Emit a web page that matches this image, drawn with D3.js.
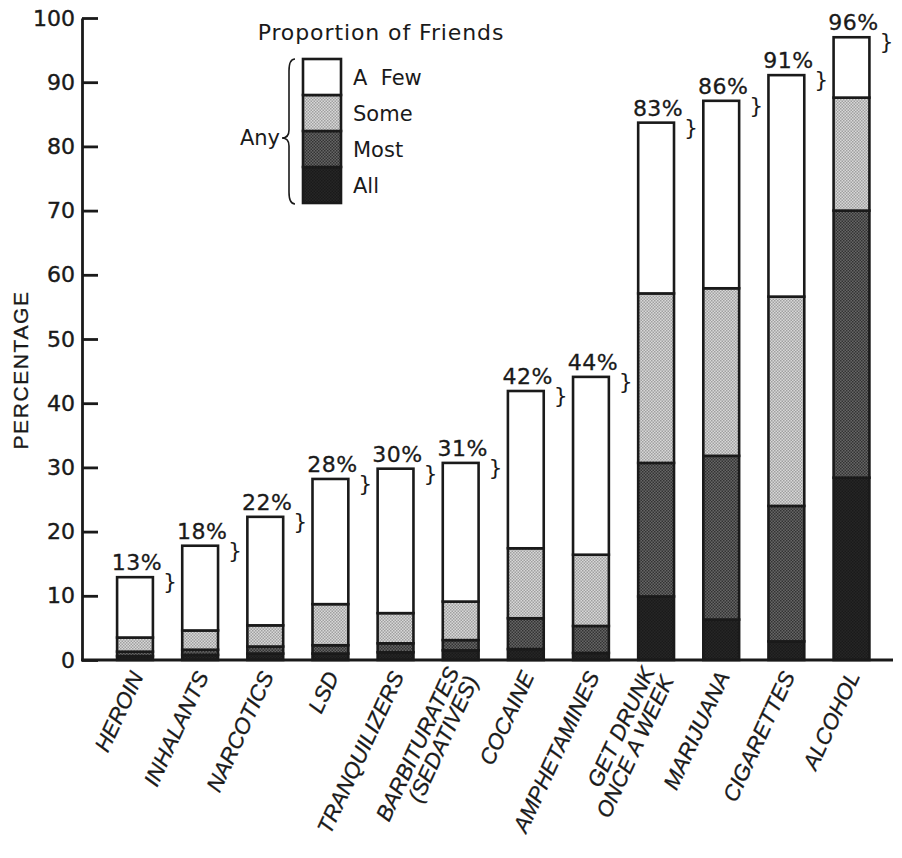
<!DOCTYPE html>
<html lang="en">
<head>
  <meta charset="UTF-8">
  <script src="https://d3js.org/d3.v7.min.js"></script>
  <title>Proportion of Friends</title>
  <style>
    body { margin: 0; background: #fff; }
    text { fill: #1a1a1a; }
  </style>
</head>
<body>
  <svg id="chart" width="902" height="858"></svg>

  <script>
    // categories, bottom to top segments (values in percent)
    var drugs = ["HEROIN", "INHALANTS", "NARCOTICS", "LSD", "TRANQUILIZERS", "BARBITURATES|(SEDATIVES)",
                 "COCAINE", "AMPHETAMINES", "GET DRUNK|ONCE A WEEK", "MARIJUANA", "CIGARETTES", "ALCOHOL"];
    var allFriends  = [0.6, 0.8, 1.0, 1.0, 1.2, 1.5, 1.7, 1.1, 9.9, 6.3, 2.9, 28.4];
    var mostFriends = [0.7, 0.8, 1.1, 1.3, 1.4, 1.6, 4.8, 4.2, 20.8, 25.5, 21.1, 41.6];
    var someFriends = [2.2, 3.0, 3.3, 6.4, 4.7, 6.0, 10.9, 11.1, 26.4, 26.1, 32.6, 17.6];
    var fewFriends  = [9.4, 13.2, 16.9, 19.5, 22.5, 21.6, 24.5, 27.7, 26.6, 29.2, 34.5, 9.4];
    var anyLabels   = ["13%", "18%", "22%", "28%", "30%", "31%", "42%", "44%", "83%", "86%", "91%", "96%"];
    var yTicks = [0, 10, 20, 30, 40, 50, 60, 70, 80, 90, 100];
    var keys = ["All", "Most", "Some", "A Few"];

    var svg = d3.select("#chart");
    var numFont = "'DejaVu Sans', sans-serif";
    var capFont = "'Liberation Sans', Arial, sans-serif";
    var ink = "#1a1a1a";

    // dithered fills
    var defs = svg.append("defs");
    function dither(id, a, b) {
      var p = defs.append("pattern").attr("id", id).attr("width", 3).attr("height", 3)
        .attr("patternUnits", "userSpaceOnUse");
      p.append("rect").attr("width", 3).attr("height", 3).attr("fill", a);
      p.append("rect").attr("width", 1.5).attr("height", 1.5).attr("fill", b);
      p.append("rect").attr("x", 1.5).attr("y", 1.5).attr("width", 1.5).attr("height", 1.5).attr("fill", b);
    }
    dither("some", "#d8d8d8", "#a0a0a0");
    dither("most", "#666", "#333");
    dither("all", "#262626", "#1a1a1a");
    var fills = { "All": "url(#all)", "Most": "url(#most)", "Some": "url(#some)", "A Few": "#fff" };

    var rows = drugs.map(function(d, i) {
      return { drug: d, "All": allFriends[i], "Most": mostFriends[i], "Some": someFriends[i], "A Few": fewFriends[i], label: anyLabels[i] };
    });
    var series = d3.stack().keys(keys)(rows);
    function total(d) { return d["All"] + d["Most"] + d["Some"] + d["A Few"]; }

    var x = d3.scaleBand().domain(drugs).range([99.5, 887]).paddingInner(0.45).paddingOuter(0.27);
    var y = d3.scaleLinear().domain([0, 100]).range([660, 18]);

    // y axis
    var yAxis = svg.append("g")
      .attr("transform", "translate(82,0)")
      .call(d3.axisLeft(y).tickValues(yTicks).tickSizeInner(-16).tickSizeOuter(0).tickPadding(7));
    yAxis.selectAll("path, line").attr("stroke", ink).attr("stroke-width", 2.8);
    yAxis.selectAll("text").attr("font-family", numFont).attr("font-size", 22)
      .attr("fill", ink).attr("stroke", ink).attr("stroke-width", 0.4);

    svg.append("text")
      .attr("transform", "translate(28,370) rotate(-90)")
      .attr("text-anchor", "middle")
      .attr("font-family", capFont).attr("font-size", 21).attr("letter-spacing", 1.6)
      .attr("stroke", ink).attr("stroke-width", 0.3)
      .text("PERCENTAGE");

    // bars
    svg.append("g").selectAll("g")
      .data(series).enter().append("g")
      .selectAll("rect")
      .data(function(s) { return s.map(function(d) { d.key = s.key; return d; }); })
      .enter().append("rect")
        .attr("x", function(d) { return x(d.data.drug); })
        .attr("width", x.bandwidth())
        .attr("y", function(d) { return y(d[1]); })
        .attr("height", function(d) { return y(d[0]) - y(d[1]); })
        .attr("fill", function(d) { return fills[d.key]; })
        .attr("stroke", ink)
        .attr("stroke-width", 2.6);

    // baseline
    svg.append("line")
      .attr("x1", 81).attr("x2", 893).attr("y1", y(0)).attr("y2", y(0))
      .attr("stroke", ink).attr("stroke-width", 3);

    // totals with little braces
    var tops = svg.append("g").selectAll("g").data(rows).enter().append("g");
    tops.append("text")
      .attr("x", function(d) { return x(d.drug) + x.bandwidth() / 2 + 2; })
      .attr("y", function(d) { return y(total(d)) - 7; })
      .attr("text-anchor", "middle")
      .attr("font-family", numFont).attr("font-size", 22).attr("letter-spacing", 0.5)
      .attr("stroke", ink).attr("stroke-width", 0.3)
      .text(function(d) { return d.label; });
    tops.append("text")
      .attr("x", function(d) { return x(d.drug) + x.bandwidth() + 17; })
      .attr("y", function(d) { return y(total(d)) + 12; })
      .attr("text-anchor", "middle")
      .attr("font-family", numFont).attr("font-size", 22)
      .text("}");

    // category labels, rotated
    var lab = svg.append("g").selectAll("text").data(drugs).enter().append("text")
      .attr("transform", function(d) { return "translate(" + (x(d) + x.bandwidth() / 2 + 9) + ",676) rotate(-65)"; })
      .attr("text-anchor", "end")
      .attr("font-family", capFont).attr("font-size", 22).attr("font-style", "italic")
      .attr("stroke", ink).attr("stroke-width", 0.3);
    lab.each(function(d) {
      var parts = d.split("|");
      var t = d3.select(this);
      parts.forEach(function(p, i) {
        t.append("tspan").attr("x", 0).attr("dy", i === 0 ? (parts.length > 1 ? -11 : 0) : 21).text(p);
      });
    });

    // legend
    var lg = svg.append("g");
    lg.append("text").attr("x", 381).attr("y", 40).attr("text-anchor", "middle")
      .attr("font-family", numFont).attr("font-size", 22).attr("letter-spacing", 0.9)
      .text("Proportion of Friends");
    var ly = d3.scaleBand().domain(keys.slice().reverse()).range([59, 203]);
    lg.selectAll("rect").data(keys).enter().append("rect")
      .attr("x", 303).attr("width", 38)
      .attr("y", function(k) { return ly(k); })
      .attr("height", ly.bandwidth())
      .attr("fill", function(k) { return fills[k]; })
      .attr("stroke", ink).attr("stroke-width", 2.6);
    lg.selectAll("text.k").data(keys).enter().append("text").attr("class", "k")
      .attr("x", 353).attr("y", function(k) { return ly(k) + ly.bandwidth() / 2 + 8; })
      .attr("font-family", numFont).attr("font-size", 21)
      .attr("xml:space", "preserve")
      .text(function(k) { return k === "A Few" ? "A  Few" : k; });
    // curly brace
    var bx = 289, t0 = 59, t1 = 204, mid = 138;
    lg.append("path")
      .attr("d", "M" + (bx + 6) + "," + t0 + " Q" + bx + "," + t0 + " " + bx + "," + (t0 + 12) +
                 " L" + bx + "," + (mid - 8) + " Q" + bx + "," + mid + " " + (bx - 7) + "," + mid +
                 " Q" + bx + "," + mid + " " + bx + "," + (mid + 8) +
                 " L" + bx + "," + (t1 - 12) + " Q" + bx + "," + t1 + " " + (bx + 6) + "," + t1)
      .attr("fill", "none").attr("stroke", ink).attr("stroke-width", 1.6);
    lg.append("text").attr("x", 280).attr("y", 145).attr("text-anchor", "end")
      .attr("font-family", numFont).attr("font-size", 21).text("Any");
  </script>
</body>
</html>
